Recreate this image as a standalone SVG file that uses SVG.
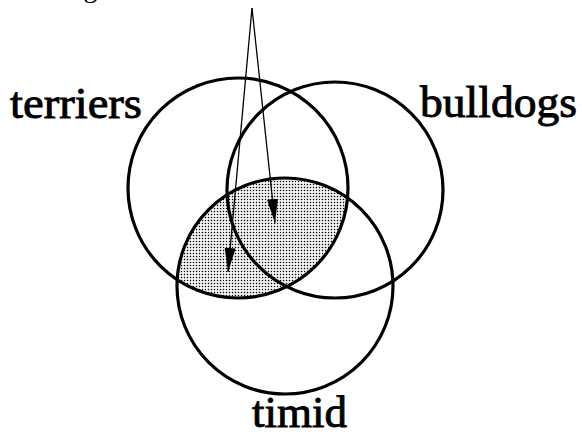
<svg xmlns="http://www.w3.org/2000/svg" width="582" height="436" viewBox="0 0 582 436">
  <style>
    .set { fill: none; stroke: #000; stroke-width: 3.2; }
    .lbl { font-family: "Liberation Serif", "Times New Roman", serif; font-size: 44px; fill: #000; stroke: #000; stroke-width: 0.9; }
    .note { font-family: "Liberation Serif", "Times New Roman", serif; font-size: 28px; fill: #000; }
    .arrow { stroke: #000; stroke-width: 1.3; fill: none; marker-end: url(#head); }
  </style>
  <defs>
    <pattern id="dots" width="3" height="3" patternUnits="userSpaceOnUse">
      <rect width="3" height="3" fill="#fff"/>
      <rect x="0.8" y="0.8" width="1.4" height="1.4" fill="#000"/>
    </pattern>
    <clipPath id="clipTerriers">
      <circle cx="238" cy="188" r="110"/>
    </clipPath>
    <marker id="head" markerUnits="userSpaceOnUse" markerWidth="24" markerHeight="12" refX="24" refY="6" orient="auto">
      <path d="M0,0.5 L24,6 L0,11.5 z" fill="#000"/>
    </marker>
  </defs>

  <text class="note" x="372" y="-3" text-anchor="end">containing no elements are shaded.</text>

  <g id="shading">
    <circle cx="285" cy="286" r="108" fill="url(#dots)" clip-path="url(#clipTerriers)"/>
  </g>

  <g id="terriers">
    <circle class="set" cx="238" cy="188" r="110"/>
    <text class="lbl" x="10" y="118" textLength="132" lengthAdjust="spacingAndGlyphs">terriers</text>
  </g>
  <g id="bulldogs">
    <circle class="set" cx="335" cy="190" r="108"/>
    <text class="lbl" x="420" y="117" textLength="157" lengthAdjust="spacingAndGlyphs">bulldogs</text>
  </g>
  <g id="timid">
    <circle class="set" cx="285" cy="286" r="108"/>
    <text class="lbl" x="252" y="427" textLength="95" lengthAdjust="spacingAndGlyphs">timid</text>
  </g>

  <g id="connectors">
    <line class="arrow" x1="252" y1="8" x2="228" y2="272"/>
    <line class="arrow" x1="252" y1="8" x2="275" y2="223"/>
  </g>
</svg>
